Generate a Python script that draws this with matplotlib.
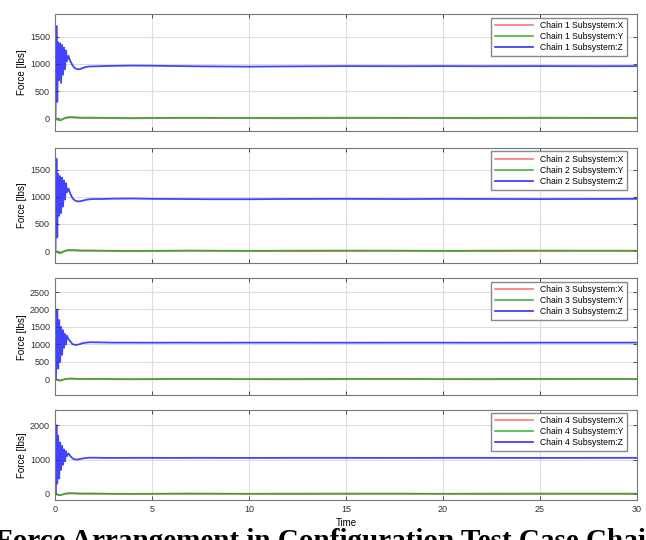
import numpy as np
import matplotlib.pyplot as plt

# time samples (s)
t = [0, 0.03, 0.08, 0.12, 0.17, 0.22, 0.27, 0.32, 0.37, 0.42, 0.47, 0.52, 0.57,
     0.62, 0.7, 0.8, 0.9, 1.0, 1.1, 1.25, 1.4, 1.6, 1.8, 2.0, 2.5, 3.0, 4.0,
     5.0, 6.0, 7.0, 8.0, 10.0, 12.0, 15.0, 18.0, 20.0, 22.0, 25.0, 28.0, 30.0]

z_chain1 = [0, 40, 1700, 300, 1400, 700, 1380, 650, 1350, 800, 1300, 900, 1250,
            1050, 1150, 1050, 980, 930, 910, 900, 920, 945, 955, 955, 960, 965, 970,
            968, 962, 958, 955, 950, 955, 960, 958, 960, 958, 960, 958, 960]
z_chain2 = [0, 40, 1700, 250, 1420, 650, 1380, 700, 1350, 820, 1300, 950, 1250,
            1080, 1150, 1050, 980, 940, 920, 915, 925, 945, 955, 958, 960, 965, 968,
            962, 960, 958, 955, 955, 960, 962, 958, 962, 960, 958, 960, 962]
z_chain3 = [2500, 0, 700, 2000, 300, 1700, 500, 1500, 700, 1400, 900, 1300, 1000,
            1250, 1150, 1080, 1010, 990, 985, 1000, 1030, 1050, 1060, 1060, 1055, 1050, 1050,
            1048, 1050, 1050, 1048, 1050, 1050, 1048, 1050, 1050, 1048, 1050, 1050, 1050]
z_chain4 = [2500, 0, 2000, 300, 1700, 450, 1500, 700, 1400, 850, 1300, 950, 1250,
            1100, 1180, 1100, 1040, 1010, 1000, 1010, 1030, 1045, 1055, 1055, 1050, 1048, 1050,
            1050, 1048, 1050, 1050, 1048, 1050, 1050, 1048, 1050, 1050, 1048, 1050, 1050]

x_small = [0, 10, 5, -10, -20, -30, -35, -30, -20, -10, -5, 0, 5,
           10, 15, 18, 20, 18, 15, 12, 10, 8, 5, 5, 3, 0, -3,
           0, 3, 5, 3, 0, -3, 0, 3, 0, -2, 0, 2, 0]
y_small = [0, -10, -20, -30, -25, -35, -40, -35, -25, -15, -5, 5, 10,
           15, 18, 20, 18, 15, 12, 10, 8, 10, 12, 10, 8, 5, 3,
           5, 8, 10, 8, 5, 8, 10, 8, 5, 8, 10, 8, 8]

z_series = [z_chain1, z_chain2, z_chain3, z_chain4]
ylims = [(-240, 1920), (-220, 1900), (-460, 2900), (-180, 2450)]
yticks = [[0, 500, 1000, 1500], [0, 500, 1000, 1500],
          [0, 500, 1000, 1500, 2000, 2500], [0, 1000, 2000]]

# axes boxes in figure fractions [left, bottom, width, height]
boxes = [[0.085, 0.757, 0.901, 0.217],
         [0.085, 0.513, 0.901, 0.213],
         [0.085, 0.268, 0.901, 0.217],
         [0.085, 0.074, 0.901, 0.167]]

plt.rcParams['font.family'] = ['Liberation Sans', 'DejaVu Sans']

fig = plt.figure(figsize=(6.46, 5.4), dpi=100)

for i in range(4):
    ax = fig.add_axes(boxes[i])
    n = i + 1
    ax.plot(t, x_small, color='#ff5555', lw=1.2, alpha=0.8, label=f"Chain {n} Subsystem:X")
    ax.plot(t, y_small, color='#22aa22', lw=1.2, alpha=0.85, label=f"Chain {n} Subsystem:Y")
    ax.plot(t, z_series[i], color='#2222ff', lw=1.3, alpha=0.85, label=f"Chain {n} Subsystem:Z")
    ax.set_xlim(0, 30)
    ax.set_ylim(*ylims[i])
    ax.set_yticks(yticks[i])
    ax.set_xticks([0, 5, 10, 15, 20, 25, 30])
    ax.grid(True, color='#dddddd', lw=0.8)
    ax.set_axisbelow(True)
    ax.tick_params(direction='in', length=3, top=True, right=True,
                   labelsize=6.5, colors='#333333', width=0.6)
    for s in ax.spines.values():
        s.set_color('#777777')
        s.set_linewidth(0.8)
    ax.set_ylabel("Force [lbs]", fontsize=7, labelpad=2)
    if i < 3:
        ax.set_xticklabels([])
    else:
        ax.set_xlabel("Time", fontsize=7, labelpad=3)
    ax.legend(loc='upper right', bbox_to_anchor=(0.983, 0.97), borderaxespad=0,
              fontsize=6.2, fancybox=False, edgecolor='#888888',
              framealpha=1, handlelength=4.5, borderpad=0.4, labelspacing=0.25)

# figure caption from the source page, cut off at the bottom edge
fig.text(-0.008, 1 - 528 / 540, "Force Arrangement in Configuration Test Case Chain",
         family='Liberation Serif', fontweight='bold', fontsize=21, va='top', ha='left')

fig.savefig("out.png", dpi=100)
